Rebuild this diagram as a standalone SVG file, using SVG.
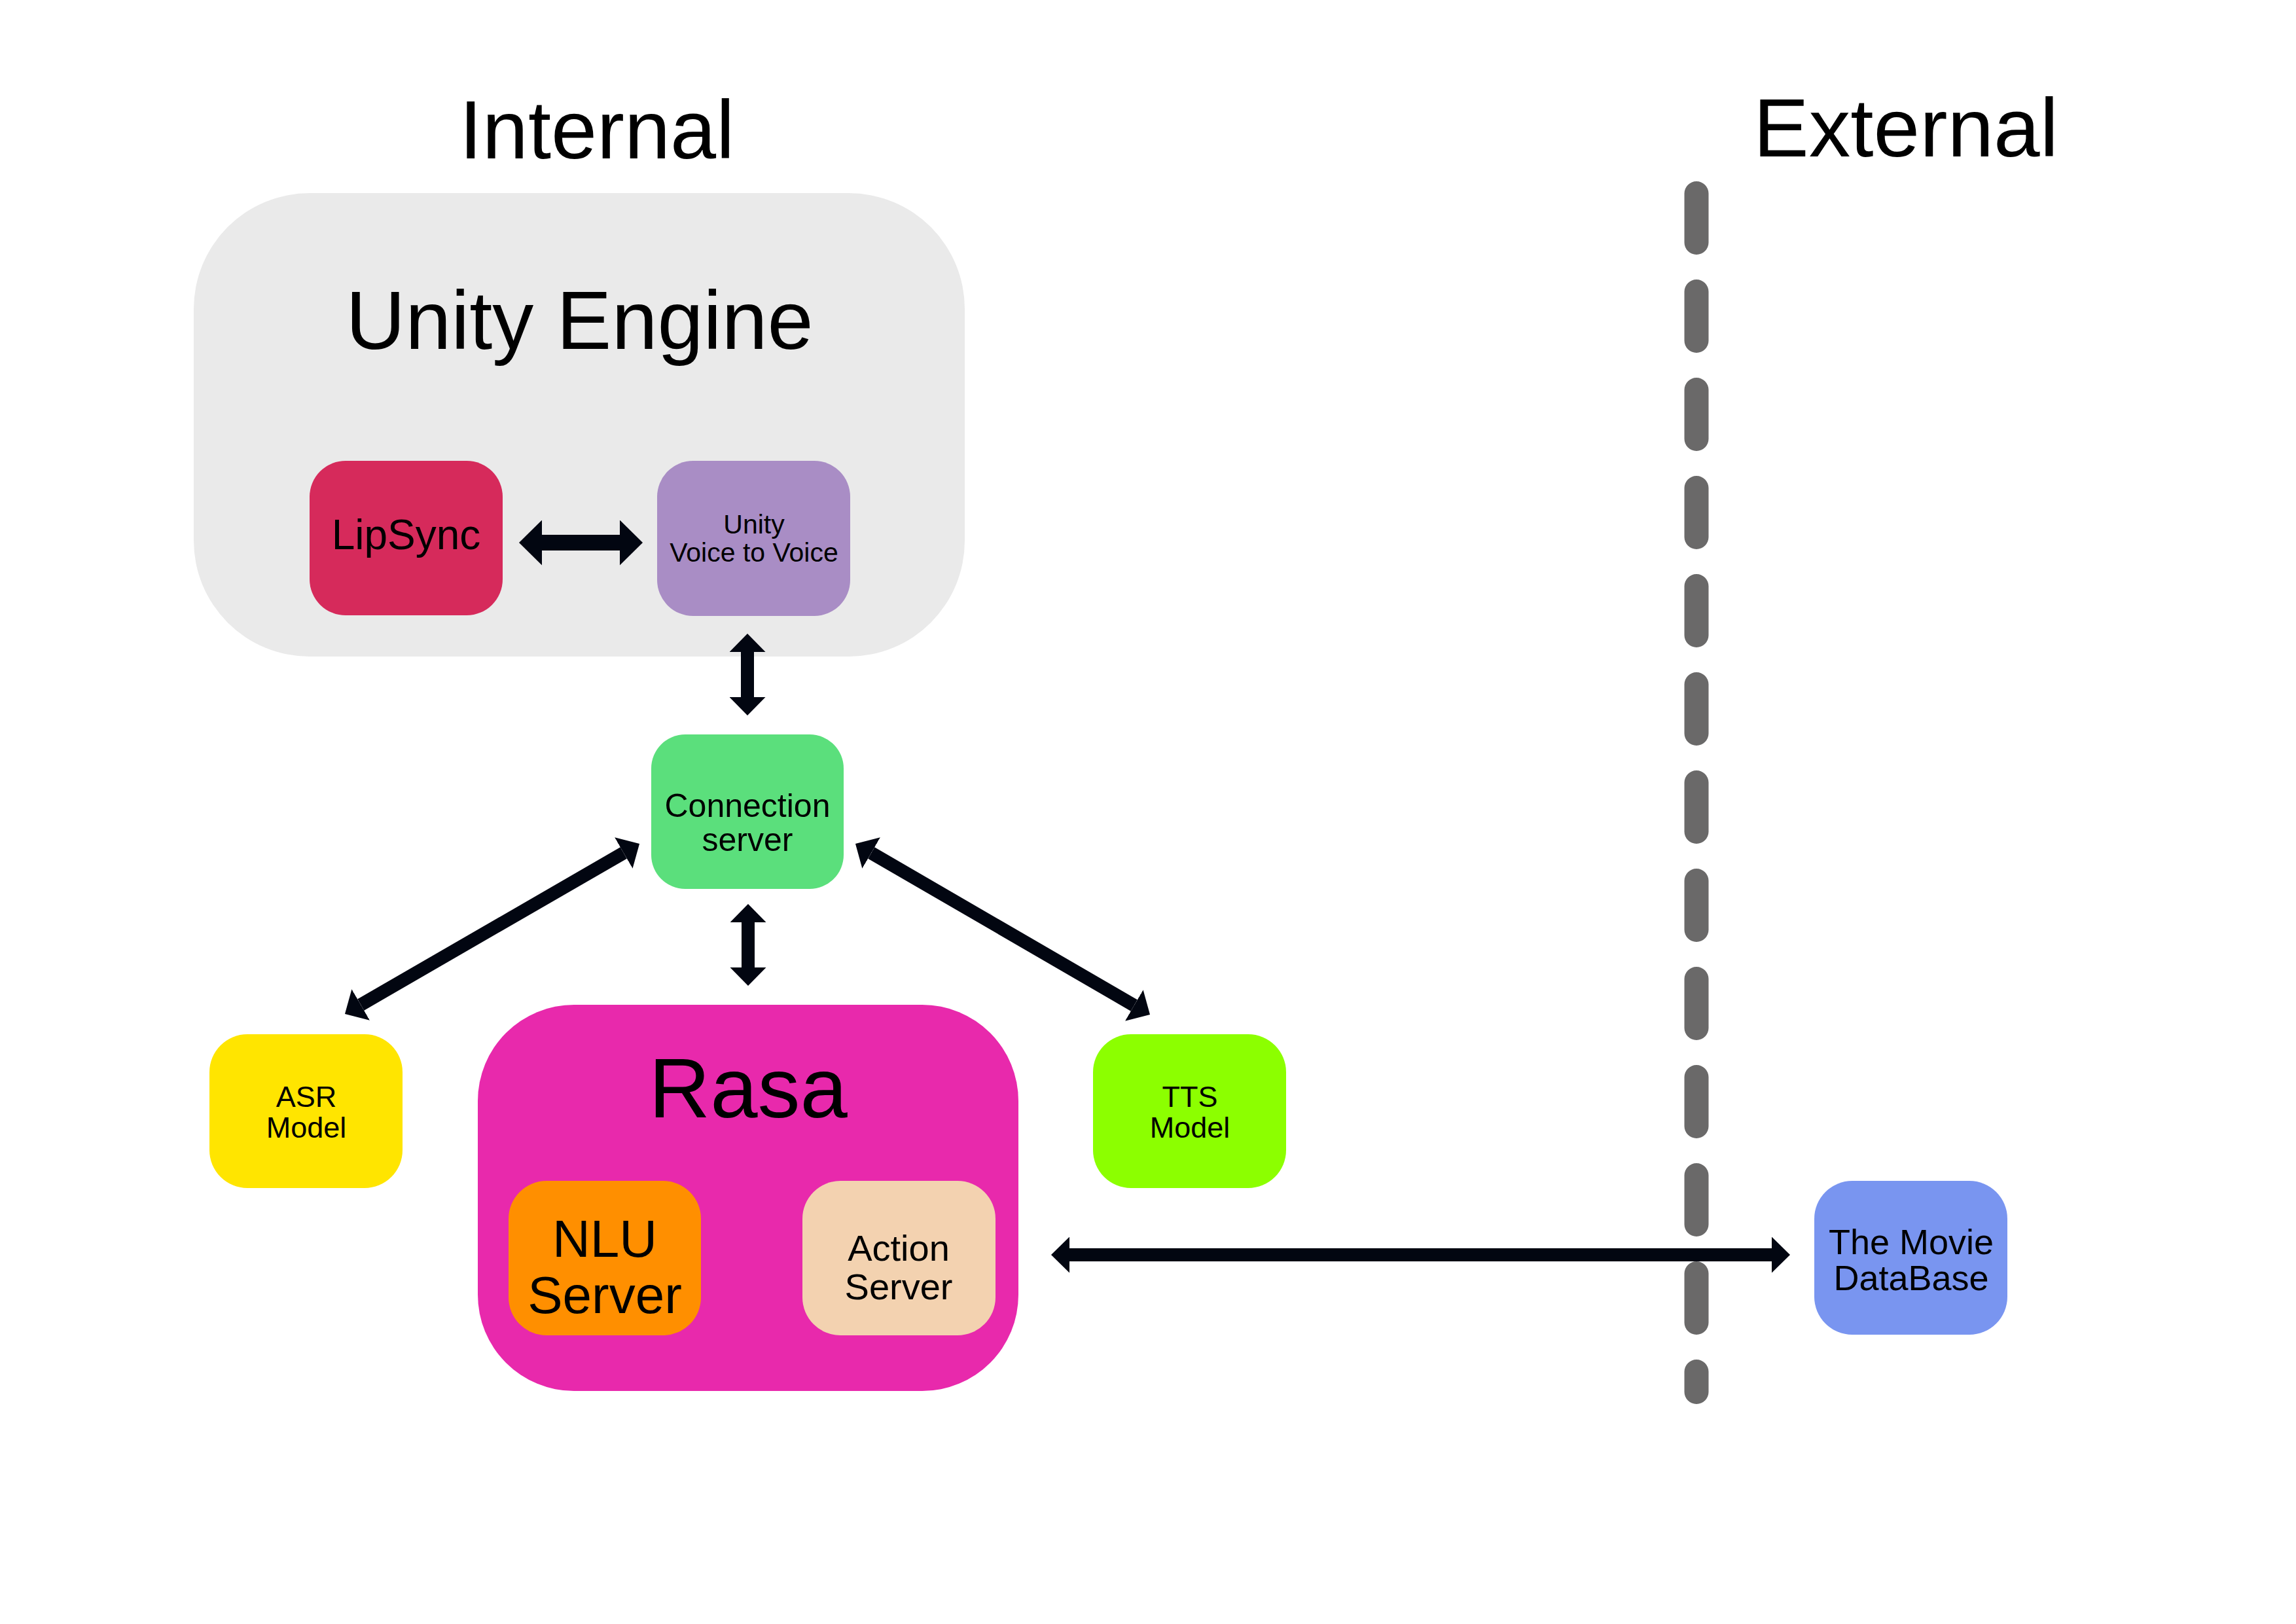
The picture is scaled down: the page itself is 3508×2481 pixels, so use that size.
<svg xmlns="http://www.w3.org/2000/svg" width="3508" height="2481" viewBox="0 0 3508 2481">
<style>
text{font-family:"Liberation Sans",Arial,sans-serif;fill:#000;text-anchor:middle}
.conn{stroke:#020611;stroke-width:20;fill:none;marker-start:url(#ah);marker-end:url(#ah)}
.big{stroke-width:24;marker-start:url(#ahb);marker-end:url(#ahb)}
</style>
<defs>
<marker id="ah" markerUnits="userSpaceOnUse" viewBox="0 0 28 55" refX="0" refY="27.5" markerWidth="28" markerHeight="55" orient="auto-start-reverse"><path d="M0,0 L28,27.5 L0,55 Z" fill="#020611"/></marker>
<marker id="ahb" markerUnits="userSpaceOnUse" viewBox="0 0 35 69" refX="0" refY="34.5" markerWidth="35" markerHeight="69" orient="auto-start-reverse"><path d="M0,0 L35,34.5 L0,69 Z" fill="#020611"/></marker>
</defs>
<rect width="3508" height="2481" fill="#fff"/>
<text x="912" y="242" font-size="126">Internal</text>
<text x="2912" y="239" font-size="127">External</text>
<path id="divider" d="M2592,295.5 V2126.5" stroke="#6A6969" stroke-width="37" stroke-dasharray="75 75" stroke-linecap="round" fill="none"/>
<g id="unity-engine">
<rect x="296" y="295" width="1178" height="708" rx="177" fill="#EAEAEA"/>
<text x="885.5" y="533" font-size="126">Unity Engine</text>
</g>
<g id="lipsync">
<rect x="473" y="704" width="295" height="236" rx="55" fill="#D62A5B"/>
<text x="620.5" y="839" font-size="64">LipSync</text>
</g>
<g id="voice-to-voice">
<rect x="1004" y="704" width="295" height="237" rx="55" fill="#A98DC5"/>
<text x="1152" y="815" font-size="41">Unity</text>
<text x="1152" y="858" font-size="41">Voice to Voice</text>
</g>
<g id="connection-server">
<rect x="995" y="1122" width="294" height="236" rx="52" fill="#5BDF7C"/>
<text x="1142" y="1248" font-size="50">Connection</text>
<text x="1142" y="1300" font-size="50">server</text>
</g>
<g id="asr">
<rect x="320" y="1580" width="295" height="235" rx="58" fill="#FFE500"/>
<text x="468" y="1691" font-size="45">ASR</text>
<text x="468" y="1738" font-size="45">Model</text>
</g>
<g id="tts">
<rect x="1670" y="1580" width="295" height="235" rx="58" fill="#8CFF00"/>
<text x="1818" y="1691" font-size="45">TTS</text>
<text x="1818" y="1738" font-size="45">Model</text>
</g>
<g id="rasa">
<rect x="730" y="1535" width="826" height="590" rx="147" fill="#E829AC"/>
<text x="1143" y="1707" font-size="130">Rasa</text>
</g>
<g id="nlu-server">
<rect x="777" y="1804" width="294" height="236" rx="58" fill="#FF8F00"/>
<text x="924" y="1920" font-size="80">NLU</text>
<text x="924" y="2006" font-size="80">Server</text>
</g>
<g id="action-server">
<rect x="1226" y="1804" width="295" height="236" rx="58" fill="#F3D2B0"/>
<text x="1373" y="1926" font-size="56">Action</text>
<text x="1373" y="1985" font-size="56">Server</text>
</g>
<g id="moviedb">
<rect x="2772" y="1804" width="295" height="235" rx="58" fill="#7995F0"/>
<text x="2920" y="1916" font-size="54">The Movie</text>
<text x="2920" y="1971" font-size="54">DataBase</text>
</g>
<g id="connectors">
<line class="conn big" x1="828" y1="829" x2="947" y2="829"/>
<line class="conn" x1="1142" y1="996" x2="1142" y2="1065"/>
<line class="conn" x1="1143" y1="1409" x2="1143" y2="1478"/>
<line class="conn" x1="952.8" y1="1303" x2="551.2" y2="1535"/>
<line class="conn" x1="1331.2" y1="1303" x2="1732.8" y2="1536"/>
<line class="conn" x1="1634" y1="1917" x2="2707" y2="1917"/>
</g>
</svg>
